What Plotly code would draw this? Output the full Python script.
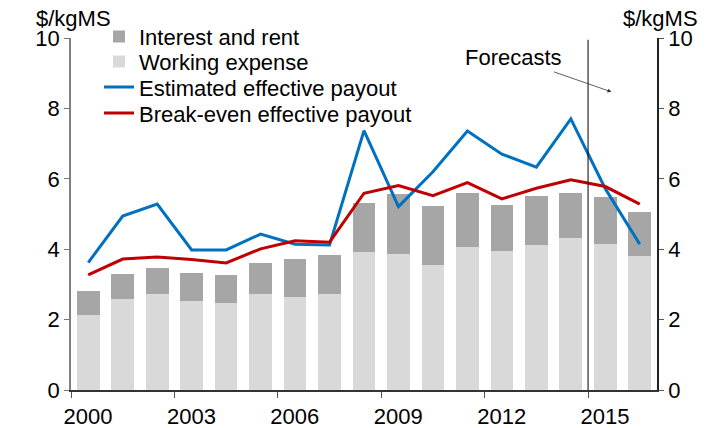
import plotly.graph_objects as go

years = list(range(2000, 2017))
working_expense = [2.13, 2.58, 2.73, 2.52, 2.46, 2.73, 2.65, 2.73, 3.92, 3.85, 3.55, 4.06, 3.95, 4.12, 4.32, 4.14, 3.80]
total_cost = [2.82, 3.30, 3.46, 3.33, 3.26, 3.62, 3.73, 3.84, 5.32, 5.56, 5.22, 5.59, 5.25, 5.51, 5.60, 5.48, 5.07]
interest_rent = [round(t - w, 2) for t, w in zip(total_cost, working_expense)]
estimated_payout = [3.62, 4.94, 5.28, 3.98, 3.98, 4.43, 4.14, 4.12, 7.37, 5.21, 6.20, 7.36, 6.70, 6.33, 7.70, 5.72, 4.14]
breakeven_payout = [3.27, 3.72, 3.78, 3.71, 3.61, 4.01, 4.24, 4.20, 5.59, 5.81, 5.52, 5.89, 5.43, 5.73, 5.97, 5.78, 5.28]
x_ticks = [2000, 2003, 2006, 2009, 2012, 2015]
y_ticks = [0, 2, 4, 6, 8, 10]
forecast_start = 2015

xpos = [y + 0.5 for y in years]

FONT = "Liberation Sans, Arial, sans-serif"
FS = 22

# plot area geometry (pixels)
W, H = 716, 428
ML, MR, MT, MB = 71, 59, 38, 38
PH = H - MT - MB
PW = W - ML - MR
YEAR_PX = PW / 17

def leg_y(py):
    return (H - MB - py) / PH

fig = go.Figure()
fig.add_trace(go.Bar(x=xpos, y=working_expense, name="Working expense",
                     marker=dict(color="#d9d9d9", line=dict(width=0)), width=0.66, legend="legend2"))
fig.add_trace(go.Bar(x=xpos, y=interest_rent, name="Interest and rent",
                     marker=dict(color="#a6a6a6", line=dict(width=0)), width=0.66, legend="legend"))
fig.add_trace(go.Scatter(x=xpos, y=estimated_payout, mode="lines", name="Estimated effective payout",
                         line=dict(color="#0070c0", width=3), legend="legend3"))
fig.add_trace(go.Scatter(x=xpos, y=breakeven_payout, mode="lines", name="Break-even effective payout",
                         line=dict(color="#c00000", width=3), legend="legend4"))
# invisible trace to activate right axis
fig.add_trace(go.Scatter(x=[xpos[0]], y=[0], yaxis="y2", mode="markers", marker=dict(opacity=0),
                         showlegend=False, hoverinfo="skip"))

fig.add_shape(type="line", x0=forecast_start, x1=forecast_start, y0=0, y1=9.95,
              xref="x", yref="y", line=dict(color="black", width=1))

fig.add_annotation(x=forecast_start + 0.68, y=8.47, xref="x", yref="y", text="Forecasts",
                   showarrow=True, ax=-98, ay=-34, arrowhead=2, arrowsize=1, arrowwidth=0.8,
                   arrowcolor="#333333", font=dict(size=FS, color="black", family=FONT))
fig.add_annotation(x=0, y=1, xref="paper", yref="paper", text="$/kgMS", showarrow=False,
                   xanchor="center", yanchor="middle", yshift=20, xshift=2,
                   font=dict(size=FS, color="black", family=FONT))
fig.add_annotation(x=1, y=1, xref="paper", yref="paper", text="$/kgMS", showarrow=False,
                   xanchor="center", yanchor="middle", yshift=20, xshift=3,
                   font=dict(size=FS, color="black", family=FONT))

leg_x = (99 - ML) / PW
def leg(py):
    return dict(x=leg_x, y=leg_y(py), xanchor="left", yanchor="middle", bgcolor="rgba(0,0,0,0)",
                font=dict(size=FS, family=FONT, color="black"), itemwidth=30)

fig.update_layout(
    width=W, height=H,
    margin=dict(l=ML, r=MR, t=MT, b=MB, autoexpand=False),
    barmode="stack", bargap=0,
    plot_bgcolor="white", paper_bgcolor="white",
    font=dict(family=FONT, size=FS, color="black"),
    showlegend=True,
    legend=leg(36.7),
    legend2=leg(61.7),
    legend3=leg(87.3),
    legend4=leg(113.3),
    xaxis=dict(range=[2000, 2017], tickvals=x_ticks, ticktext=[str(t) for t in x_ticks],
               ticks="outside", ticklen=6, tickcolor="#555555", ticklabelshift=int(round(YEAR_PX / 2)),
               showline=True, linecolor="#333333", linewidth=1.5, showgrid=False, zeroline=False,
               tickfont=dict(size=FS)),
    yaxis=dict(range=[0, 10], tickvals=y_ticks, ticks="outside", ticklen=5, tickcolor="#777777",
               showline=True, linecolor="#808080", linewidth=1.5, showgrid=False, zeroline=False,
               tickfont=dict(size=FS)),
    yaxis2=dict(range=[0, 10], tickvals=y_ticks, ticks="outside", ticklen=5, tickcolor="#555555",
                showline=True, linecolor="#222222", linewidth=1.5, showgrid=False, zeroline=False,
                overlaying="y", side="right", tickfont=dict(size=FS)),
)

fig.write_html("out.html", config={"displayModeBar": False},
               post_script="document.body.style.margin='0';")
